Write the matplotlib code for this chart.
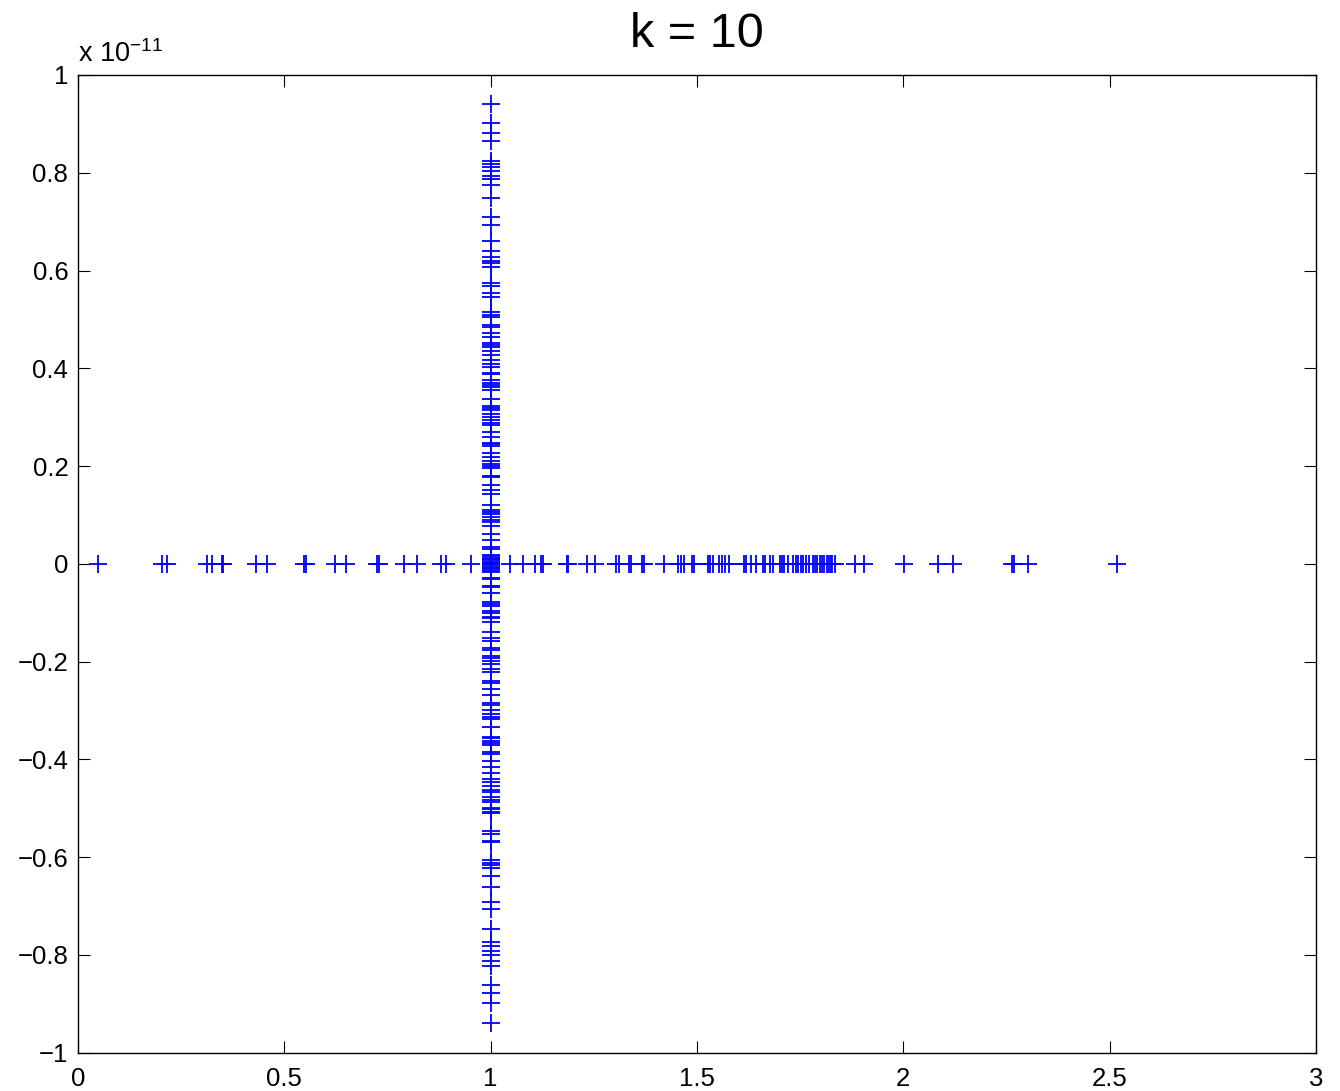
import numpy as np
import matplotlib
matplotlib.use("Agg")
import matplotlib.pyplot as plt
from matplotlib.ticker import FuncFormatter

plt.rcParams['font.family'] = ['Liberation Sans', 'DejaVu Sans']
plt.rcParams['mathtext.fontset'] = 'custom'
plt.rcParams['mathtext.rm'] = 'Liberation Sans'

# eigenvalues on the real axis (imag = 0)
real_x = [0.048, 0.204, 0.216, 0.313, 0.324, 0.349, 0.351, 0.431, 0.459, 0.548,
          0.552, 0.622, 0.649, 0.724, 0.729, 0.790, 0.821, 0.879, 0.892, 0.952,
          1.047, 1.078, 1.107, 1.123, 1.127, 1.184, 1.188, 1.233, 1.254, 1.305,
          1.312, 1.336, 1.339, 1.367, 1.371, 1.420, 1.455, 1.461, 1.468, 1.488,
          1.492, 1.527, 1.531, 1.538, 1.554, 1.561, 1.569, 1.577, 1.615, 1.618,
          1.632, 1.643, 1.659, 1.665, 1.676, 1.684, 1.702, 1.705, 1.711, 1.721,
          1.732, 1.740, 1.745, 1.751, 1.758, 1.765, 1.772, 1.782, 1.786, 1.791,
          1.798, 1.802, 1.808, 1.814, 1.820, 1.826, 1.827, 1.834, 1.884, 1.905,
          2.001, 2.085, 2.121, 2.264, 2.268, 2.303, 2.519]

# eigenvalues with real part 1, imaginary part in units of 1e-11
imag_pos = [0.941, 0.901, 0.881, 0.864, 0.825, 0.818, 0.811, 0.804, 0.793, 0.787,
            0.774, 0.748, 0.710, 0.693, 0.660, 0.639, 0.628, 0.620, 0.615, 0.607,
            0.574, 0.569, 0.553, 0.545, 0.516, 0.509, 0.504, 0.489, 0.485, 0.473,
            0.465, 0.452, 0.448, 0.444, 0.436, 0.427, 0.417, 0.409, 0.402, 0.391,
            0.388, 0.375, 0.370, 0.366, 0.361, 0.356, 0.337, 0.323, 0.318, 0.315,
            0.306, 0.300, 0.294, 0.289, 0.284, 0.270, 0.260, 0.248, 0.245, 0.241,
            0.227, 0.219, 0.211, 0.204, 0.200, 0.195, 0.180, 0.177, 0.161, 0.151,
            0.143, 0.120, 0.111, 0.106, 0.102, 0.095, 0.090, 0.085, 0.077, 0.062,
            0.049, 0.034, 0.030]
imag_near0 = [0.019, 0.016, 0.012, 0.009, 0.007, 0.004, 0.002, -0.001, -0.003,
              -0.006, -0.008, -0.011, -0.014, -0.017]
imag_neg = [-0.028, -0.032, -0.045, -0.048, -0.060, -0.078, -0.082, -0.086, -0.096,
            -0.100, -0.108, -0.111, -0.118, -0.139, -0.152, -0.157, -0.173, -0.176,
            -0.189, -0.193, -0.198, -0.205, -0.216, -0.221, -0.239, -0.244, -0.257,
            -0.268, -0.285, -0.289, -0.299, -0.307, -0.313, -0.318, -0.333, -0.354,
            -0.357, -0.362, -0.367, -0.371, -0.384, -0.388, -0.403, -0.415, -0.427,
            -0.441, -0.446, -0.455, -0.463, -0.466, -0.476, -0.483, -0.487, -0.500,
            -0.502, -0.507, -0.510, -0.546, -0.553, -0.566, -0.570, -0.606, -0.611,
            -0.616, -0.623, -0.639, -0.661, -0.691, -0.707, -0.746, -0.773, -0.782,
            -0.792, -0.801, -0.812, -0.822, -0.862, -0.877, -0.899, -0.939]

SCALE = 1e-11
imag_vals = np.array(imag_pos + imag_near0 + imag_neg)

re = np.concatenate([real_x, np.ones(len(imag_vals))])
im = np.concatenate([np.zeros(len(real_x)), imag_vals * SCALE])

fig = plt.figure(figsize=(13.4, 10.91), dpi=100)
ax = fig.add_axes([0.0582, 0.0351, 0.9238, 0.8962])

ax.plot(re, im, linestyle='none', marker='+', color='#0000ff',
        markersize=12.5, markeredgewidth=1.3)

ax.set_xlim(0, 3)
ax.set_ylim(-1 * SCALE, 1 * SCALE)
ax.set_xticks(np.arange(0, 3.01, 0.5))
ax.set_yticks(np.arange(-1, 1.01, 0.2) * SCALE)

def fmt(v):
    s = '%g' % round(v, 6)
    if s == '-0':
        s = '0'
    return s.replace('-', '\u2212')

ax.xaxis.set_major_formatter(FuncFormatter(lambda v, p: fmt(v)))
ax.yaxis.set_major_formatter(FuncFormatter(lambda v, p: fmt(v / SCALE)))

ax.tick_params(direction='in', length=8.5, width=0.8, labelsize=18.5,
               top=True, right=True, pad=7)
ax.tick_params(axis='x', pad=10)
for sp in ax.spines.values():
    sp.set_linewidth(1.0)

ax.text(0.0, 1.0135, r'x 10$^{\mathrm{-11}}$', transform=ax.transAxes,
        fontsize=19.5, ha='left', va='baseline')
ax.set_title('k = 10', fontsize=35, pad=20)

fig.savefig('out.png', dpi=100)
